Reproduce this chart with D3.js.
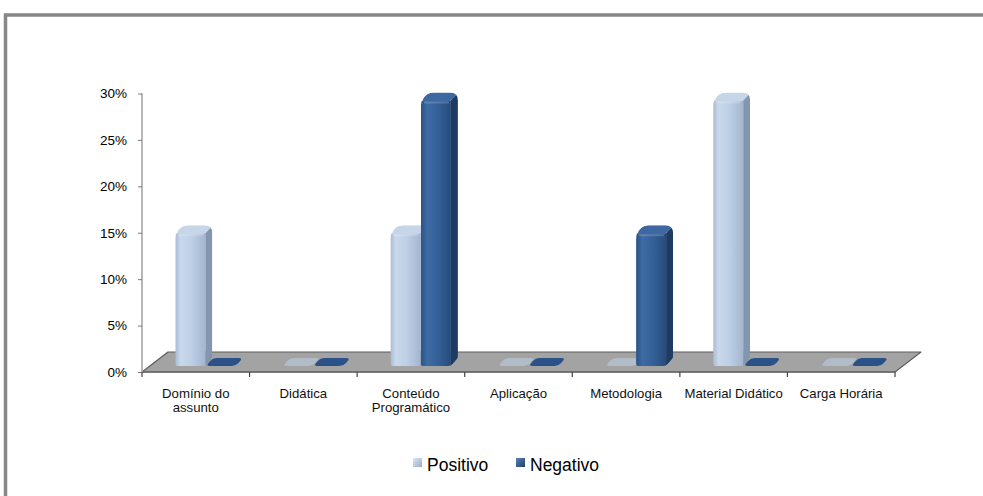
<!DOCTYPE html>
<html>
<head>
<meta charset="utf-8">
<script src="https://cdn.jsdelivr.net/npm/d3@7"></script>
<style>
  html, body { margin: 0; padding: 0; background: #fff; }
  svg { display: block; font-family: "Liberation Sans", Arial, sans-serif; }
</style>
</head>
<body>
<svg id="chart" width="983" height="496"></svg>
<script>
// Avaliação por aspecto: proporção de respostas positivas e negativas
const categories = [
  ["Domínio do", "assunto"],
  ["Didática"],
  ["Conteúdo", "Programático"],
  ["Aplicação"],
  ["Metodologia"],
  ["Material Didático"],
  ["Carga Horária"]
];
const seriesNames = ["Positivo", "Negativo"];
const positivo = [0.143, 0, 0.143, 0, 0, 0.286, 0];
const negativo = [0, 0, 0.286, 0, 0.143, 0, 0];
const yTicks = [0, 0.05, 0.10, 0.15, 0.20, 0.25, 0.30];

const FONT = "'Liberation Sans', Arial, sans-serif";
const svg = d3.select("#chart");
const defs = svg.append("defs");

// outer frame
svg.append("rect")
  .attr("x", 5.5).attr("y", 15)
  .attr("width", 1000).attr("height", 500)
  .attr("fill", "none").attr("stroke", "#878787").attr("stroke-width", 3.5);

const catKeys = categories.map(c => c.join(" "));
const x = d3.scaleBand().domain(catKeys).range([142, 895]).padding(0);
const y = d3.scaleLinear().domain([0, 0.30]).range([372, 93.5]);
// position of each series' front face relative to the category centre
const sub = d3.scaleBand().domain(seriesNames).range([-20.5, 40.5]).padding(0);

// oblique depth of the floor and of the columns
const floorDepth = { dx: 26, dy: 20 };
const barDepth = { dx: 7, dy: 8 };
const baseShift = 6;

const palette = {
  Positivo: {
    front: [["0%", "#a9bbd3"], ["18%", "#c9d8eb"], ["55%", "#bdcfe6"], ["100%", "#a3b6cf"]],
    side: "#8296b0", cap: "#c7d5e8", flat: "#b7c4d6"
  },
  Negativo: {
    front: [["0%", "#2a5386"], ["22%", "#3f6ba4"], ["60%", "#335f97"], ["100%", "#274b79"]],
    side: "#1e3b62", cap: "#3d68a2", flat: "#2b5288"
  }
};

seriesNames.forEach(name => {
  const g = defs.append("linearGradient").attr("id", "front-" + name)
    .attr("x1", "0%").attr("x2", "100%").attr("y1", "0%").attr("y2", "0%");
  palette[name].front.forEach(([o, c]) => g.append("stop").attr("offset", o).attr("stop-color", c));
});
const legendGrad = (id, c1, c2) => {
  const g = defs.append("linearGradient").attr("id", id)
    .attr("x1", "0%").attr("x2", "100%").attr("y1", "0%").attr("y2", "100%");
  g.append("stop").attr("offset", "0%").attr("stop-color", c1);
  g.append("stop").attr("offset", "100%").attr("stop-color", c2);
};
legendGrad("leg-Positivo", "#dfe8f4", "#98abc5");
legendGrad("leg-Negativo", "#5b82b6", "#1f3f69");

// polygon with rounded corners (radius per vertex)
function roundPoly(pts, radii) {
  const n = pts.length;
  let d = "";
  for (let i = 0; i < n; i++) {
    const p0 = pts[(i - 1 + n) % n], p1 = pts[i], p2 = pts[(i + 1) % n];
    const r = Array.isArray(radii) ? radii[i] : radii;
    const l1 = Math.hypot(p0[0] - p1[0], p0[1] - p1[1]);
    const l2 = Math.hypot(p2[0] - p1[0], p2[1] - p1[1]);
    const t1 = Math.min(r / (l1 || 1), 0.5), t2 = Math.min(r / (l2 || 1), 0.5);
    const a = [p1[0] + (p0[0] - p1[0]) * t1, p1[1] + (p0[1] - p1[1]) * t1];
    const b = [p1[0] + (p2[0] - p1[0]) * t2, p1[1] + (p2[1] - p1[1]) * t2];
    d += (i === 0 ? "M" : "L") + a[0] + "," + a[1] + "Q" + p1[0] + "," + p1[1] + " " + b[0] + "," + b[1];
  }
  return d + "Z";
}

// floor
const fx0 = x.range()[0], fx1 = x.range()[1], fy = y(0);
svg.append("path")
  .attr("d", `M${fx0},${fy}L${fx1},${fy}L${fx1 + floorDepth.dx},${fy - floorDepth.dy}L${fx0 + floorDepth.dx},${fy - floorDepth.dy}Z`)
  .attr("fill", "#a3a3a3").attr("stroke", "#5e5e5e").attr("stroke-width", 1.2)
  .attr("stroke-linejoin", "round");
svg.append("line")
  .attr("x1", fx0).attr("x2", fx1).attr("y1", fy).attr("y2", fy)
  .attr("stroke", "#6a6a6a").attr("stroke-width", 1.6);

// y axis
const yAxis = svg.append("g").attr("transform", `translate(${fx0},0)`)
  .call(d3.axisLeft(y).tickValues(yTicks).tickSize(4).tickPadding(11)
    .tickFormat(d3.format(".0%")));
yAxis.select(".domain").attr("stroke", "#a6a6a6").attr("stroke-width", 1.6)
  .attr("d", `M0,${y(0)}V${y(0.30)}`);
yAxis.selectAll(".tick line").attr("stroke", "#7a7a7a").attr("stroke-width", 1);
yAxis.selectAll(".tick text").attr("font-size", 13.5).attr("fill", "#000")
  .attr("font-family", FONT);

// category boundary ticks under the floor edge
const bounds = catKeys.map(k => x(k)).concat([fx1]);
svg.append("g").selectAll("line").data(bounds).join("line")
  .attr("x1", d => d).attr("x2", d => d)
  .attr("y1", fy).attr("y2", fy + 5)
  .attr("stroke", "#444").attr("stroke-width", 1.2);

// category labels
const lab = svg.append("g").attr("font-size", 13.2).attr("fill", "#111")
  .attr("font-family", FONT).attr("text-anchor", "middle");
categories.forEach((lines, i) => {
  const cx = x(catKeys[i]) + x.bandwidth() / 2;
  const t = lab.append("text").attr("x", cx).attr("y", 398);
  lines.forEach((ln, j) => t.append("tspan").attr("x", cx).attr("dy", j === 0 ? 0 : 14).text(ln));
});

// columns
const bars = svg.append("g");
const w = 30;
const values = { Positivo: positivo, Negativo: negativo };
let clipId = 0;
catKeys.forEach((k, i) => {
  const cx = x(k) + x.bandwidth() / 2;
  seriesNames.forEach(name => {
    const v = values[name][i];
    const p = palette[name];
    const x0 = cx + sub(name);
    const yb = y(0) - baseShift;
    const yt = y(v) - baseShift;
    const { dx, dy } = barDepth;
    const g = bars.append("g");
    if (v === 0) {
      g.append("path")
        .attr("d", roundPoly([[x0, yb], [x0 + dx, yb - dy], [x0 + w + dx, yb - dy], [x0 + w, yb]], 4))
        .attr("fill", p.flat).attr("opacity", name === "Positivo" ? 0.75 : 1);
      return;
    }
    const id = "bar-clip-" + (clipId++);
    defs.append("clipPath").attr("id", id).append("path")
      .attr("d", roundPoly([[x0, yb], [x0, yt], [x0 + dx, yt - dy], [x0 + w + dx, yt - dy], [x0 + w + dx, yb - dy], [x0 + w, yb]],
        [2, 6, 7, 8, 2, 3]));
    g.attr("clip-path", `url(#${id})`);
    g.append("path")
      .attr("d", `M${x0 + w},${yt}L${x0 + w + dx},${yt - dy}L${x0 + w + dx},${yb - dy}L${x0 + w},${yb}Z`)
      .attr("fill", p.side);
    g.append("rect").attr("x", x0).attr("y", yt).attr("width", w).attr("height", yb - yt)
      .attr("fill", `url(#front-${name})`);
    g.append("path")
      .attr("d", roundPoly([[x0, yt + 1], [x0 + dx, yt - dy], [x0 + w + dx, yt - dy], [x0 + w, yt + 1]], 5))
      .attr("fill", p.cap);
    g.append("rect").attr("x", x0 + 3).attr("y", yt + 1).attr("width", w - 5).attr("height", 2)
      .attr("fill", "#fff").attr("opacity", 0.18);
  });
});

// legend
const legend = svg.append("g").attr("font-size", 17.5).attr("fill", "#000").attr("font-family", FONT);
const legendX = { Positivo: 413, Negativo: 516 };
seriesNames.forEach(name => {
  legend.append("rect").attr("x", legendX[name]).attr("y", 458).attr("width", 9).attr("height", 9)
    .attr("fill", `url(#leg-${name})`);
  legend.append("text").attr("x", legendX[name] + 14).attr("y", 470.5).text(name);
});
</script>
</body>
</html>
